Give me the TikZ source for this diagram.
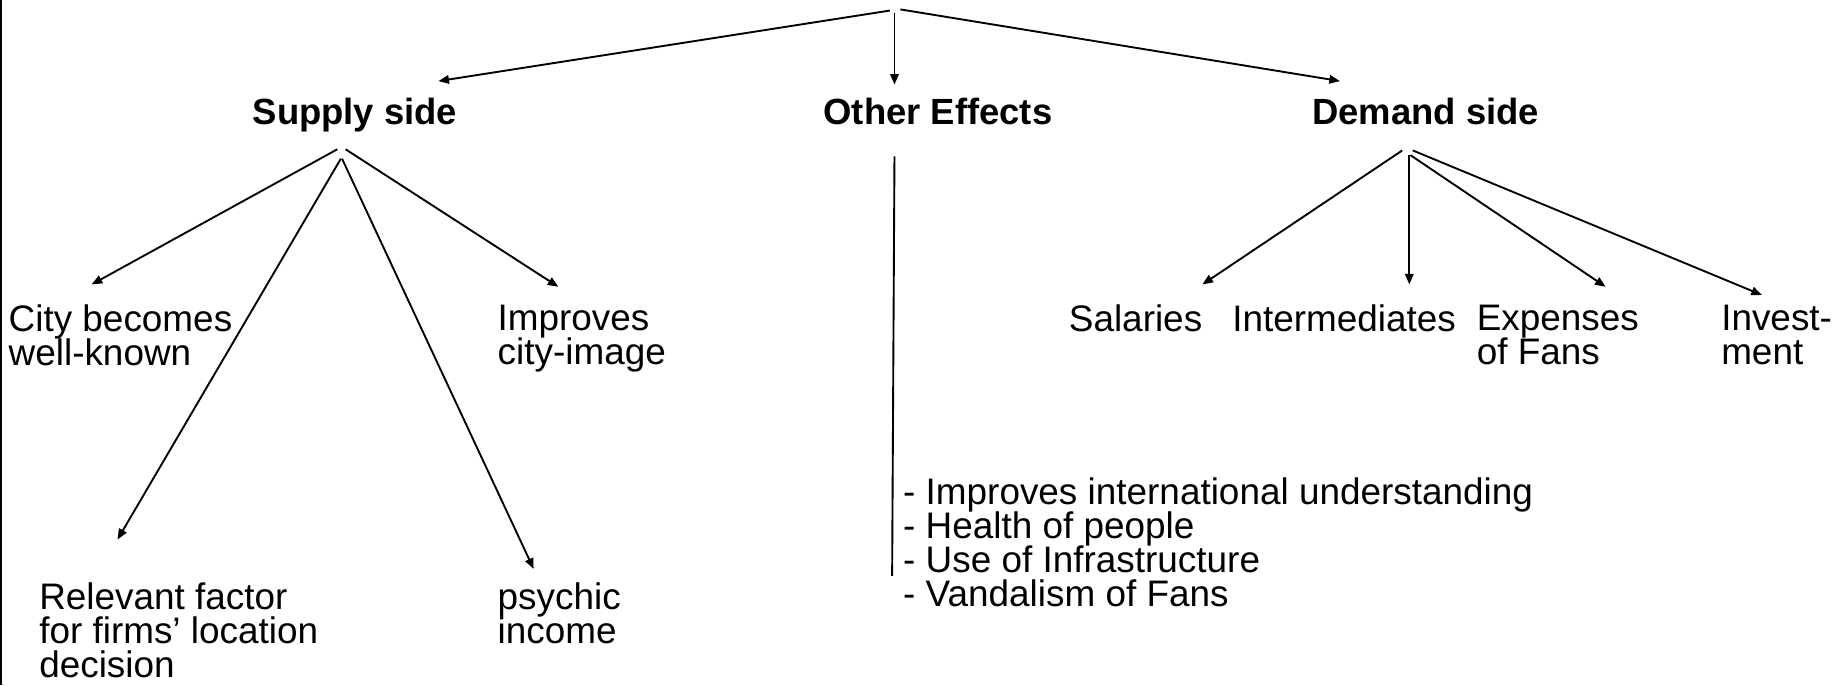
\documentclass[tikz,border=0pt]{standalone}
\usepackage{fontspec}
\setmainfont{Liberation Sans}
\usetikzlibrary{arrows.meta}
\newcommand\mylblfont{\fontsize{15.7}{14.5}\selectfont\lineskiplimit=-20pt\relax}
\newcommand\myheadfont{\fontsize{15.5}{17}\selectfont\bfseries}
\begin{document}
\begin{tikzpicture}[x=0.5pt,y=-0.5pt,
  conn/.style={line width=0.8pt,-{Triangle[length=4.5pt,width=3.6pt]}},
  plainline/.style={line width=0.8pt},
  head/.style={font=\myheadfont, inner sep=0pt, anchor=base},
  lbl/.style={font=\mylblfont, inner sep=0pt, anchor=north west, align=left}]
\useasboundingbox (0,0) rectangle (1568,583);
% frame line at left
\draw[line width=0.9pt] (1,0) -- (1,583);

% headings
\node[head] (supply) at (302,106) {Supply side};
\node[head] (other) at (798,106) {Other Effects};
\node[head] (demand) at (1213,106) {Demand side};

% labels
\node[lbl] (city) at (7,259.2) {City becomes\\well-known};
\node[lbl] (image) at (423,259.2) {Improves\\city-image};
\node[lbl] (relevant) at (33,495.2) {Relevant factor\\for firms’ location\\decision};
\node[lbl] (psychic) at (423,495.2) {psychic\\income};
\node[lbl] (salaries) at (909,259.2) {Salaries};
\node[lbl] (inter) at (1048,259.2) {Intermediates};
\node[lbl] (expenses) at (1256,259.2) {Expenses\\of Fans};
\node[lbl] (invest) at (1464,259.2) {Invest-\\ment};
\node[lbl] (list) at (768,406.2) {- Improves international understanding\\- Health of people\\- Use of Infrastructure\\- Vandalism of Fans};

% top apex
\coordinate (t1) at (757,9);
\coordinate (t2) at (761,11);
\coordinate (t3) at (766,8);
\coordinate (e1) at (373,69);
\coordinate (e2) at (761,72);
\coordinate (e3) at (1140,69);
\draw[conn] (t1) -- (e1);
\draw[conn] (t2) -- (e2);
\draw[conn] (t3) -- (e3);

% supply side
\coordinate (s1) at (287,127);
\coordinate (s2) at (290,135);
\coordinate (s3) at (291,135);
\coordinate (s4) at (294,127);
\coordinate (se1) at (78,242);
\coordinate (se2) at (100,459);
\coordinate (se3) at (454,484);
\coordinate (se4) at (475,244);
\draw[conn] (s1) -- (se1);
\draw[conn] (s2) -- (se2);
\draw[conn] (s3) -- (se3);
\draw[conn] (s4) -- (se4);

% other effects
\coordinate (o1) at (761,133);
\coordinate (o2) at (759,490);
\draw[plainline] (o1) -- (o2);

% demand side
\coordinate (d1) at (1193,128);
\coordinate (d2) at (1199,132);
\coordinate (d3) at (1200,132);
\coordinate (d4) at (1202,128);
\coordinate (de1) at (1023,242);
\coordinate (de2) at (1199,242);
\coordinate (de3) at (1366,244);
\coordinate (de4) at (1499,251);
\draw[conn] (d1) -- (de1);
\draw[conn] (d2) -- (de2);
\draw[conn] (d3) -- (de3);
\draw[conn] (d4) -- (de4);
\end{tikzpicture}
\end{document}
